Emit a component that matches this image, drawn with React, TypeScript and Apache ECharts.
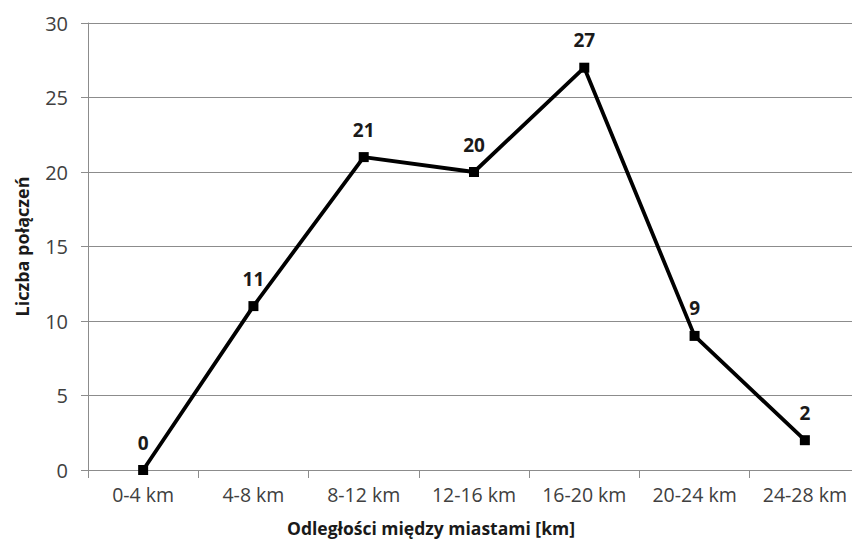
import React, { useEffect, useRef } from "react";
import * as echarts from "echarts";

const categories = ["0-4 km", "4-8 km", "8-12 km", "12-16 km", "16-20 km", "20-24 km", "24-28 km"];
const values = [0, 11, 21, 20, 27, 9, 2];
const yTicks = { min: 0, max: 30, interval: 5 };
const xTitle = "Odległości między miastami [km]";
const yTitle = "Liczba połączeń";

export default function App() {
  const ref = useRef<HTMLDivElement>(null);
  useEffect(() => {
    const chart = echarts.init(ref.current!, null, { renderer: "svg" });
    const font = "'Open Sans', sans-serif";
    chart.setOption({
      animation: false,
      backgroundColor: "#ffffff",
      grid: { left: 88, top: 23, bottom: 78, width: 772, outerBoundsMode: "none", containLabel: false },
      title: {
        text: xTitle,
        left: 426,
        textAlign: "center",
        top: 514,
        textStyle: { color: "#1a1a1a", fontFamily: font, fontSize: 17.5, fontWeight: "bold" },
      },
      xAxis: {
        type: "category",
        data: categories,
        boundaryGap: true,
        axisLine: { lineStyle: { color: "#8c8c8c", width: 1 } },
        axisTick: { show: true, length: 8, lineStyle: { color: "#8c8c8c" } },
        axisLabel: { color: "#404040", fontFamily: font, fontSize: 19.5, margin: 14 },
      },
      yAxis: {
        type: "value",
        min: yTicks.min,
        max: yTicks.max,
        interval: yTicks.interval,
        axisLine: { show: true, lineStyle: { color: "#8c8c8c", width: 1 } },
        axisTick: { show: true, length: 7, lineStyle: { color: "#8c8c8c" } },
        splitLine: { lineStyle: { color: "#8c8c8c", width: 1 } },
        axisLabel: { color: "#404040", fontFamily: font, fontSize: 20, margin: 20 },
        name: yTitle,
        nameLocation: "middle",
        nameGap: 57,
        nameRotate: 90,
        nameTextStyle: { color: "#1a1a1a", fontFamily: font, fontSize: 18, fontWeight: "bold" },
      },
      series: [
        {
          type: "line",
          data: values,
          symbol: "rect",
          symbolSize: 10,
          lineStyle: { color: "#000000", width: 3.8 },
          itemStyle: { color: "#000000" },
          label: {
            show: true,
            position: "top",
            distance: 13,
            color: "#1a1a1a",
            fontFamily: font,
            fontSize: 19,
            fontWeight: "bold",
          },
        },
      ],
    });
    return () => chart.dispose();
  }, []);
  return <div ref={ref} style={{ width: 852, height: 548, position: "absolute", left: 0, top: 0 }} />;
}
